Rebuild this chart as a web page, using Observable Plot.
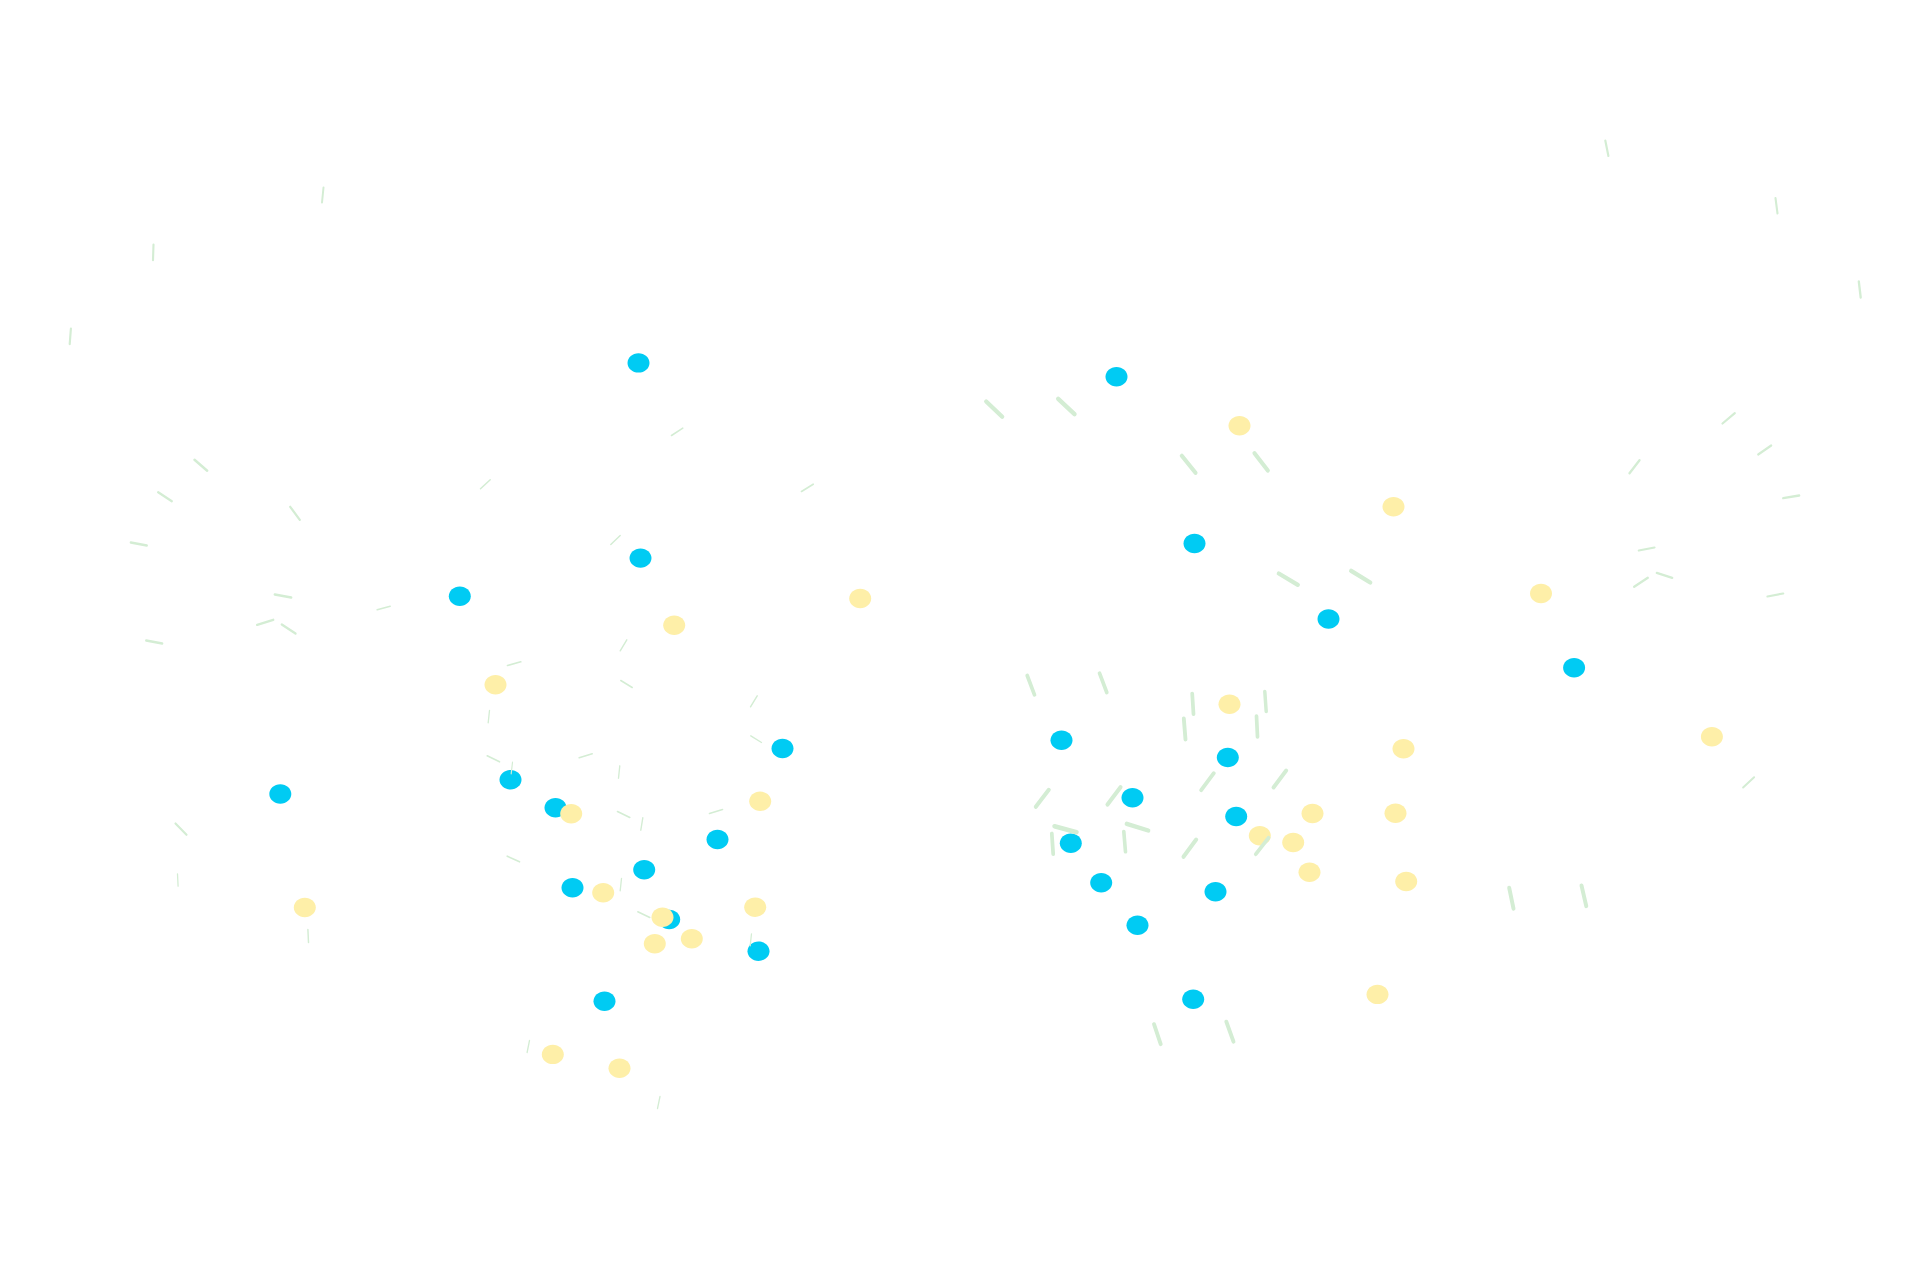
<!DOCTYPE html>
<html>
<head>
<meta charset="utf-8">
<script src="https://cdn.jsdelivr.net/npm/d3@7"></script>
<script src="https://cdn.jsdelivr.net/npm/@observablehq/plot@0.6"></script>
<style>
  html, body { margin: 0; padding: 0; background: #ffffff; overflow: hidden; }
  #chart svg { display: block; }
</style>
</head>
<body>
<div id="chart"></div>
<script>
// Blue points [x, y]
const blueDots = [
  [638, 362.4], [1116, 376.2], [640, 557.6], [1194, 543], [459.3, 595.7],
  [1328, 618.5], [1573.6, 667.3], [782, 748], [1061, 739.7], [1227.3, 757],
  [510, 779.3], [279.8, 793.5], [555, 807.3], [1132, 797.3], [1235.7, 816],
  [717, 839], [1070.3, 842.7], [643.7, 869.3], [572, 887.3], [1100.7, 882.3],
  [1215, 891.3], [668.7, 919], [1137, 924.7], [758, 950.7], [604, 1000.7],
  [1192.7, 998.8]
];

// Yellow points [x, y]
const yellowDots = [
  [1239, 425.3], [1393, 506.2], [859.7, 598], [1540.5, 593], [673.7, 624.7],
  [495, 684.3], [1229, 703.7], [1403, 748.3], [1711.4, 736.3], [759.7, 800.7],
  [570.7, 813.3], [1312, 813], [1395, 812.7], [1259.3, 835.3], [1292.7, 842],
  [602.7, 892.3], [1309, 871.7], [1405.7, 881], [754.7, 906.7], [662, 916.7],
  [691.3, 938.3], [654.3, 943.3], [1377, 993.9], [552.3, 1053.9], [619, 1067.8],
  [304.3, 907]
];

// Short green segments [x1, y1, x2, y2]
const segments = [
  // left field
  [323, 187, 321.5, 202], [153, 244, 152.5, 259.6], [70.4, 328, 69.2, 343.7],
  [194, 459.3, 206.7, 470.3], [157.7, 491.7, 171.3, 500.7], [289.7, 506.3, 299.3, 519.3],
  [130.3, 542, 146.3, 545], [274.3, 594, 290.7, 597], [376.7, 609.3, 389.7, 605.7],
  [256.7, 624.3, 272.7, 619.3], [281.3, 624, 295, 633], [145.7, 640, 161.7, 643],
  [480, 488.3, 489.7, 479.3], [610.3, 544, 619.7, 535], [671, 435, 682.3, 427.7],
  [801, 491, 812.7, 483.7], [619.7, 650.3, 626.3, 639.3], [507, 665, 520.3, 661.3],
  [620.3, 680, 631.7, 687], [750, 706.3, 756.7, 695.3], [487.7, 722.3, 489, 710],
  [750.3, 735.3, 761, 742], [175, 823, 186, 834.3], [177, 873.5, 177.6, 885.7],
  [307.4, 929, 308, 942], [529, 1040, 526.6, 1052], [659.5, 1096, 657, 1108],
  [486.7, 755.3, 499, 761.3], [512, 761.7, 510.7, 773.3], [578.7, 757.3, 591.7, 753.3],
  [619.3, 765.3, 618, 777.7], [617, 811, 629.3, 817], [642.3, 817.3, 640.3, 829.7],
  [709, 813, 722, 809], [506.7, 855.7, 519, 861.3], [621, 878, 619.7, 890.3],
  [637.3, 911.3, 649.3, 917], [751, 933.3, 749.7, 945.3],
  // right field
  [1604.8, 140, 1607.9, 155.5], [1775, 197.6, 1777, 213], [1858.3, 280.8, 1860.2, 297],
  [985.7, 401, 1001.7, 416.3], [1057.7, 398.3, 1074, 413.7],
  [1181.3, 455.3, 1195, 472.3], [1254, 452.7, 1267.3, 470],
  [1722, 423, 1734.3, 412.7], [1757.7, 454, 1770.7, 445], [1629, 472.7, 1639, 459.7],
  [1782.7, 497.7, 1798.7, 495], [1638.3, 550, 1654, 547], [1633.7, 586.3, 1647.3, 577.3],
  [1656.3, 572.3, 1671.7, 577.3], [1767, 596, 1782.7, 593],
  [1278.3, 573, 1297.3, 584.3], [1350.7, 570.3, 1369.7, 582],
  [1026.7, 675, 1034, 694.3], [1099, 672.7, 1106.3, 692],
  [1191.7, 693, 1193, 713.7], [1264.3, 691, 1265.7, 711],
  [1183.3, 718, 1185, 739], [1256, 715.7, 1257, 736.3],
  [1048.3, 789.3, 1035.3, 806.3], [1120, 786.7, 1107, 804],
  [1213.3, 772.7, 1200.7, 789.7], [1285.7, 770, 1273, 787],
  [1054, 825.7, 1076, 831.7], [1126.3, 823.3, 1147.7, 830],
  [1051.3, 833, 1052.7, 853.7], [1123.3, 831, 1125, 851.3],
  [1195.7, 839, 1183, 856.3], [1268, 837.3, 1255.3, 853.7],
  [1753.6, 776.7, 1742.6, 787], [1508.7, 887.3, 1513, 908.2], [1581, 885, 1585.8, 905.7],
  [1153.5, 1023.7, 1160.2, 1043.7], [1225.8, 1021.2, 1233, 1041.2]
];

// slightly wide ellipse symbol (as in the reference)
const ellipse = {
  draw(context, size) {
    const r = Math.sqrt(size / Math.PI);
    const rx = r * 1.1, ry = r * 0.97, k = 0.5523;
    context.moveTo(rx, 0);
    context.bezierCurveTo(rx, ry * k, rx * k, ry, 0, ry);
    context.bezierCurveTo(-rx * k, ry, -rx, ry * k, -rx, 0);
    context.bezierCurveTo(-rx, -ry * k, -rx * k, -ry, 0, -ry);
    context.bezierCurveTo(rx * k, -ry, rx, -ry * k, rx, 0);
    context.closePath();
  }
};

const segLen = (d) => Math.hypot(d[2] - d[0], d[3] - d[1]);

const chart = Plot.plot({
  width: 1920,
  height: 1280,
  margin: 0,
  x: {domain: [0, 1920], range: [0, 1920], axis: null},
  y: {domain: [0, 1280], range: [0, 1280], axis: null},
  marks: [
    Plot.dot(blueDots, {x: d => d[0], y: d => d[1], r: 10, symbol: ellipse, fill: "#00CBF3", stroke: "none"}),
    Plot.dot(yellowDots, {x: d => d[0], y: d => d[1], r: 10, symbol: ellipse, fill: "#FEEFA8", stroke: "none"}),
    Plot.link(segments, {
      x1: d => d[0], y1: d => d[1], x2: d => d[2], y2: d => d[3],
      stroke: "#D4EDD4",
      strokeWidth: d => Math.max(1.1, segLen(d) ** 2 / 115),
      strokeLinecap: "round"
    })
  ]
});
document.getElementById("chart").append(chart);
</script>
</body>
</html>
